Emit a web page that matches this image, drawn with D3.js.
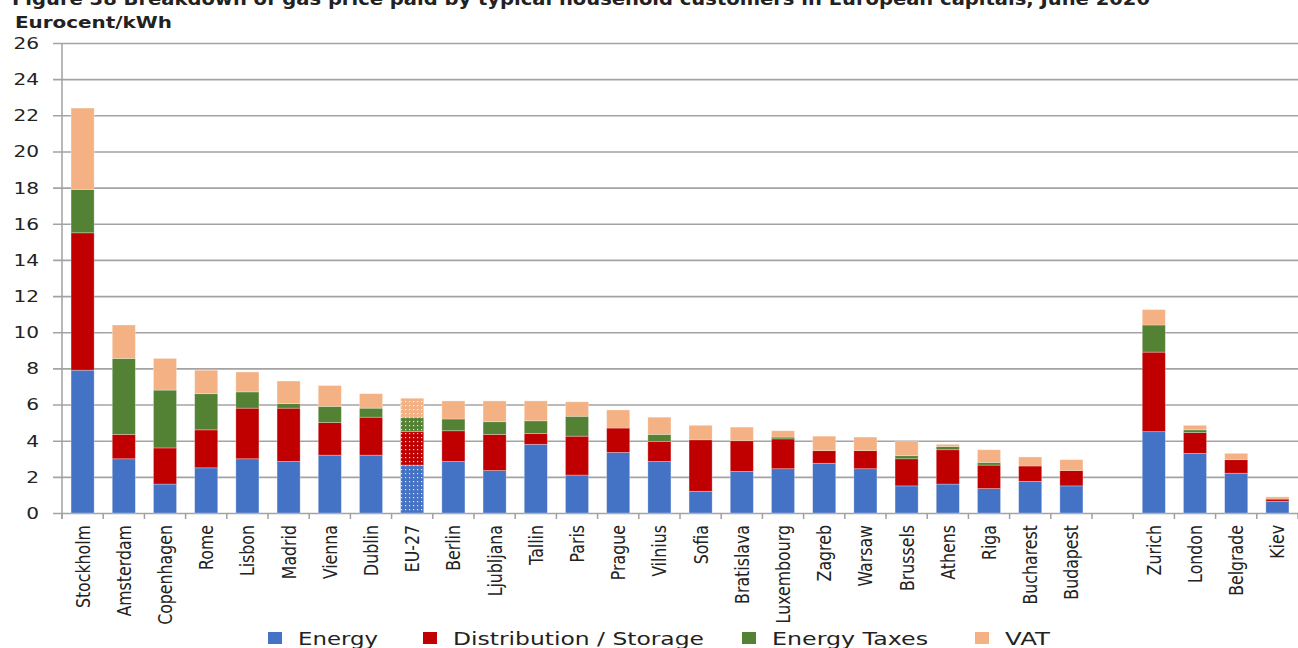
<!DOCTYPE html>
<html>
<head>
<meta charset="utf-8">
<script src="https://cdn.jsdelivr.net/npm/d3@7"></script>
<style>
  html, body { margin: 0; padding: 0; background: #ffffff; }
  svg { display: block; }
  text { font-family: "DejaVu Sans", Verdana, sans-serif; fill: #222; }
</style>
</head>
<body>
<script>
// ---- Data (Eurocent/kWh) ----
const titleText = "Figure 38 Breakdown of gas price paid by typical household customers in European capitals, June 2020";
const unitText = "Eurocent/kWh";
const categories = ["Stockholm","Amsterdam","Copenhagen","Rome","Lisbon","Madrid","Vienna","Dublin","EU-27","Berlin","Ljubljana","Tallin","Paris","Prague","Vilnius","Sofia","Bratislava","Luxembourg","Zagreb","Warsaw","Brussels","Athens","Riga","Bucharest","Budapest","","Zurich","London","Belgrade","Kiev"];
const energy       = [7.9, 3.0, 1.6, 2.5, 3.0, 2.85, 3.2, 3.2, 2.65, 2.85, 2.35, 3.8, 2.1, 3.35, 2.85, 1.2, 2.3, 2.45, 2.75, 2.45, 1.5, 1.6, 1.35, 1.75, 1.5, 0, 4.5, 3.3, 2.2, 0.65];
const distribution = [7.6, 1.35, 2.0, 2.1, 2.8, 2.95, 1.8, 2.1, 1.85, 1.7, 2.0, 0.6, 2.15, 1.35, 1.1, 2.85, 1.7, 1.65, 0.7, 1.0, 1.5, 1.9, 1.3, 0.85, 0.85, 0, 4.4, 1.15, 0.75, 0.12];
const energyTaxes  = [2.4, 4.2, 3.2, 2.0, 0.9, 0.25, 0.9, 0.5, 0.8, 0.65, 0.7, 0.7, 1.1, 0, 0.4, 0, 0, 0.1, 0, 0, 0.17, 0.18, 0.15, 0, 0, 0, 1.5, 0.15, 0, 0];
const vat          = [4.5, 1.85, 1.75, 1.3, 1.1, 1.25, 1.15, 0.8, 1.05, 1.0, 1.15, 1.1, 0.8, 1.0, 0.95, 0.8, 0.75, 0.35, 0.8, 0.75, 0.78, 0.12, 0.7, 0.5, 0.6, 0, 0.85, 0.25, 0.35, 0.12];
const seriesNames = ["Energy", "Distribution / Storage", "Energy Taxes", "VAT"];
const yTicks = [0, 2, 4, 6, 8, 10, 12, 14, 16, 18, 20, 22, 24, 26];
const patternedCategory = "EU-27";

// ---- Styles / layout ----
const colors = ["#4472C4", "#C00000", "#548235", "#F4B183"];
const legendTextWidths = [80, 251, 156, 45];
const legendGaps = [45, 38, 47, 0];
const W = 1298, H = 648;
const plot = { left: 62, right: 1298, top: 43, bottom: 513 };
const SX = 1.22; // horizontal text stretch seen in the reference

const svg = d3.select("body").append("svg").attr("width", W).attr("height", H);

// patterns for EU-27
const defs = svg.append("defs");
colors.forEach((c, i) => {
  const p = defs.append("pattern").attr("id", "pat" + i)
    .attr("patternUnits", "userSpaceOnUse").attr("width", 4).attr("height", 4);
  p.append("rect").attr("width", 4).attr("height", 4).attr("fill", c);
  p.append("rect").attr("x", 1).attr("y", 1).attr("width", 1.2).attr("height", 1.2).attr("fill", "#ffffff").attr("opacity", 0.85);
});

// scales
const x = d3.scaleBand().domain(d3.range(categories.length))
  .range([plot.left, plot.right]).paddingInner(0.44).paddingOuter(0.22);
const y = d3.scaleLinear().domain([0, 26]).range([plot.bottom, plot.top]);

// gridlines via axis
const gAxis = svg.append("g").attr("transform", `translate(${plot.left - 9},0)`)
  .call(d3.axisLeft(y).tickValues(yTicks).tickSize(-(plot.right - plot.left + 9)).tickFormat(""));
gAxis.select(".domain").remove();
gAxis.selectAll(".tick line").attr("stroke", "#a3a3a3").attr("stroke-width", 1.6);

// y axis line
svg.append("line").attr("x1", plot.left).attr("x2", plot.left)
  .attr("y1", y(26)).attr("y2", y(0) + 6).attr("stroke", "#a0a0a0").attr("stroke-width", 1.5);

// y labels
svg.append("g").selectAll("text").data(yTicks).join("text")
  .attr("text-anchor", "end")
  .attr("font-size", 16.5)
  .attr("transform", d => `translate(39,${y(d)}) scale(${SX},1)`)
  .attr("dy", "0.36em")
  .text(d => d);

// stacked bars
const rows = categories.map((c, i) => ({ i, cat: c, vals: [energy[i], distribution[i], energyTaxes[i], vat[i]] }));
const stackData = rows.map(r => ({ i: r.i, s0: r.vals[0], s1: r.vals[1], s2: r.vals[2], s3: r.vals[3] }));
const stack = d3.stack().keys(["s0", "s1", "s2", "s3"]);
const layers = stack(stackData);

layers.forEach((layer, k) => {
  svg.append("g").selectAll("rect").data(layer.filter(d => d[1] - d[0] > 0)).join("rect")
    .attr("x", d => x(d.data.i))
    .attr("width", x.bandwidth())
    .attr("y", d => y(d[1]))
    .attr("height", d => y(d[0]) - y(d[1]))
    .attr("fill", d => categories[d.data.i] === patternedCategory ? `url(#pat${k})` : colors[k])
    .attr("stroke", "#ffffff").attr("stroke-opacity", 0.35).attr("stroke-width", 0.8);
});

// x ticks at band boundaries
const step = x.step();
svg.append("g").selectAll("line").data(d3.range(categories.length + 1)).join("line")
  .attr("x1", i => plot.left + i * step).attr("x2", i => plot.left + i * step)
  .attr("y1", y(0)).attr("y2", y(0) + 6)
  .attr("stroke", "#a0a0a0").attr("stroke-width", 1.5);

// x labels
svg.append("g").selectAll("text").data(rows.filter(r => r.cat !== "")).join("text")
  .attr("text-anchor", "end")
  .attr("font-size", 15.8)
  .attr("transform", r => `translate(${x(r.i) + x.bandwidth() / 2},525) scale(${SX},1) rotate(-90)`)
  .attr("dy", "0.36em")
  .text(r => r.cat);

// title and unit
svg.append("text").attr("x", 12).attr("y", 5)
  .attr("font-size", 18).attr("font-weight", "bold").attr("fill", "#000")
  .attr("textLength", 1138).attr("lengthAdjust", "spacingAndGlyphs")
  .text(titleText);
svg.append("text").attr("x", 15).attr("y", 28)
  .attr("font-size", 16.5).attr("font-weight", "bold").attr("fill", "#000")
  .attr("textLength", 157).attr("lengthAdjust", "spacingAndGlyphs")
  .text(unitText);

// legend
const legend = svg.append("g");
let lx = 268;
seriesNames.forEach((name, k) => {
  const g = legend.append("g").attr("transform", `translate(${lx},0)`);
  g.append("rect").attr("x", 0).attr("y", 632).attr("width", 14).attr("height", 12).attr("fill", colors[k]);
  g.append("text").attr("font-size", 18)
    .attr("x", 30).attr("y", 645)
    .attr("textLength", legendTextWidths[k]).attr("lengthAdjust", "spacingAndGlyphs")
    .text(name);
  lx += 30 + legendTextWidths[k] + legendGaps[k];
});
</script>
</body>
</html>
